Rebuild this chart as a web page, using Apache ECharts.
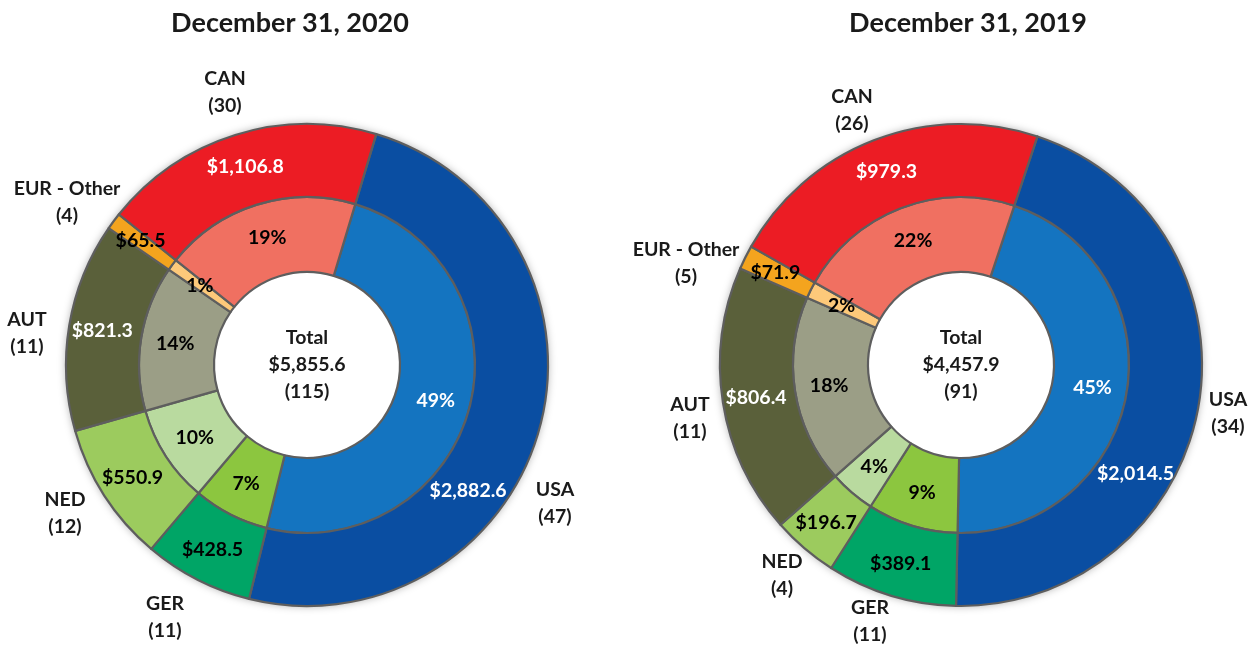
<!DOCTYPE html>
<html>
<head>
<meta charset="utf-8">
<script src="https://cdn.jsdelivr.net/npm/echarts@6/dist/echarts.min.js"></script>
<style>html,body{margin:0;padding:0;background:#fff}#c{width:1255px;height:647px}</style>
</head>
<body>
<div id="c"></div>
<script>
// ---- data ----
const countries = ['USA', 'GER', 'NED', 'AUT', 'EUR - Other', 'CAN'];
const values2020 = [2882.6, 428.5, 550.9, 821.3, 65.5, 1106.8];
const counts2020 = [47, 11, 12, 11, 4, 30];
const pct2020 = [49, 7, 10, 14, 1, 19];
const values2019 = [2014.5, 389.1, 196.7, 806.4, 71.9, 979.3];
const counts2019 = [34, 11, 4, 11, 5, 26];
const pct2019 = [45, 9, 4, 18, 2, 22];
const titles = ['December 31, 2020', 'December 31, 2019'];

// ---- styles ----
const outerColors = ['#0A4EA2', '#00A566', '#9CCB5E', '#5A603A', '#F4A41E', '#EC1C24'];
const innerColors = ['#1474C0', '#8CC63F', '#B9DA9F', '#9B9E86', '#FDC97A', '#F07061'];
const outerText = ['#fff', '#000', '#000', '#fff', '#000', '#fff'];
const innerText = ['#fff', '#000', '#000', '#000', '#000', '#000'];
const FONT = 'Lato';
const FS = 19.5;
const borderColor = '#5E5E5E';

const fmt = v => '$' + v.toLocaleString('en-US', {minimumFractionDigits: 1, maximumFractionDigits: 1});

// label placements for the country names (pixels)
const namePos = [
  [[555, 503], [165, 617], [65, 513], [27, 333], [67, 202], [225, 92]],
  [[1228, 413], [870, 621], [782, 575], [690, 418], [686, 263], [852, 110]]
];
const usaShift = [[-39, 71], [-30, 73]];
const centers = [[307, 365], [961, 365]];

function buildSeries(k, values, counts, pcts) {
  const c = centers[k];
  const start = k === 0 ? 73.3 : 71.5;
  const halo = {
    type: 'pie', center: c, radius: [0, 241], silent: true, animation: false,
    itemStyle: {color: '#ffffff', shadowBlur: 8, shadowColor: 'rgba(0,0,0,0.35)'},
    label: {show: false}, labelLine: {show: false},
    data: [{name: 'halo', value: 1}]
  };
  const outer = {
    type: 'pie', center: c, radius: [168, 241], startAngle: start,
    clockwise: true, silent: true, animation: false,
    itemStyle: {borderColor: borderColor, borderWidth: 2.2},
    label: {position: 'inside', fontFamily: FONT, fontWeight: 'bold', fontSize: FS, overflow: 'none'},
    labelLine: {show: false},
    labelLayout: p => p.dataIndex === 0 ? {dx: usaShift[k][0], dy: usaShift[k][1]} : {},
    data: countries.map((n, i) => ({
      name: n, value: values[i],
      itemStyle: {color: outerColors[i]},
      label: {formatter: fmt(values[i]), color: outerText[i]}
    }))
  };
  const inner = {
    type: 'pie', center: c, radius: [93, 168], startAngle: start,
    clockwise: true, silent: true, animation: false,
    itemStyle: {borderColor: borderColor, borderWidth: 2.2},
    label: {position: 'inside', fontFamily: FONT, fontWeight: 'bold', fontSize: FS, overflow: 'none'},
    labelLine: {show: false},
    data: countries.map((n, i) => ({
      name: n, value: values[i],
      itemStyle: {color: innerColors[i]},
      label: {formatter: pcts[i] + '%', color: innerText[i]}
    }))
  };
  const names = {
    type: 'pie', center: c, radius: [241, 241], startAngle: start,
    clockwise: true, silent: true, animation: false, z: 5,
    itemStyle: {color: 'rgba(0,0,0,0)', borderWidth: 0},
    label: {position: 'inside', fontFamily: FONT, fontWeight: 'bold', fontSize: FS,
            color: '#1a1a1a', lineHeight: 27, align: 'center', overflow: 'none', width: 200},
    labelLine: {show: false},
    labelLayout: p => ({x: namePos[k][p.dataIndex][0], y: namePos[k][p.dataIndex][1],
                        align: 'center', verticalAlign: 'middle'}),
    data: countries.map((n, i) => ({
      name: n, value: values[i],
      label: {formatter: n + '\n(' + counts[i] + ')'}
    }))
  };
  const total = values.reduce((a, b) => a + b, 0);
  const cnt = counts.reduce((a, b) => a + b, 0);
  const center = {
    type: 'pie', center: c, radius: [0, 92], silent: true, animation: false,
    itemStyle: {color: '#fff', borderWidth: 0},
    label: {position: 'center', fontFamily: FONT, fontWeight: 'bold', fontSize: FS,
            color: '#1a1a1a', lineHeight: 27,
            formatter: 'Total\n' + fmt(Math.round(total * 10) / 10) + '\n(' + cnt + ')'},
    labelLine: {show: false},
    data: [{name: 'Total', value: 1}]
  };
  return [halo, center, inner, outer, names];
}

const chart = echarts.init(document.getElementById('c'), null, {renderer: 'canvas'});
chart.setOption({
  backgroundColor: '#fff',
  animation: false,
  title: [
    {text: titles[0], left: 285, top: 5, textAlign: 'center',
     textStyle: {fontFamily: FONT, fontWeight: 'bold', fontSize: 27, color: '#1a1a1a'}},
    {text: titles[1], left: 963, top: 5, textAlign: 'center',
     textStyle: {fontFamily: FONT, fontWeight: 'bold', fontSize: 27, color: '#1a1a1a'}}
  ],
  series: [
    ...buildSeries(0, values2020, counts2020, pct2020),
    ...buildSeries(1, values2019, counts2019, pct2019)
  ]
});
</script>
</body>
</html>
